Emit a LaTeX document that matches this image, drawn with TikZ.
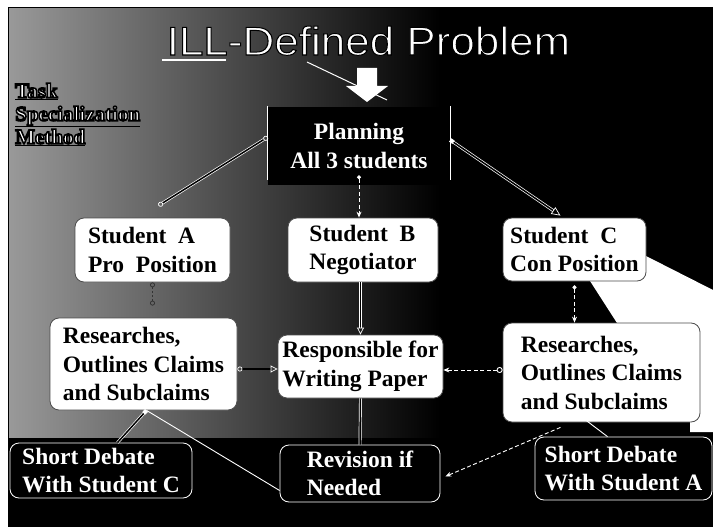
\documentclass[tikz,border=0pt]{standalone}
\usepackage{fontspec}
\setmainfont{Liberation Serif}
\newfontfamily\titlefont{Liberation Sans}
\usetikzlibrary{arrows.meta,calc}
\newcommand\boxfont{\fontsize{23.5}{28.5}\selectfont\bfseries}
\newcommand\outl[2][1.6]{\special{pdf:literal direct 2 Tr #1 w 0 G}#2\special{pdf:literal direct 0 Tr}}
\begin{document}
\begin{tikzpicture}[x=1pt,y=-1pt,
  wbox/.style={draw=black!70, line width=0.8pt, fill=white, rounded corners=9pt,
    inner sep=0pt, align=left, font=\boxfont, text=black},
  bbox/.style={draw=white, line width=0.8pt, fill=black, rounded corners=9pt,
    inner sep=0pt, align=left, font=\boxfont, text=white},
  dline/.style={draw=white, double=black, double distance=1.5pt, line width=0.7pt},
  dashl/.style={draw=white, line width=0.9pt, dash pattern=on 4pt off 2.5pt},
  sline/.style={draw=white, line width=0.9pt}
]
\useasboundingbox (0,0) rectangle (713,527);
% slide background
\fill[white] (0,0) rectangle (713,527);
\fill[black] (8,8) rectangle (713,527);
\shade[left color=black!40, right color=black] (9,9) rectangle (440,437);
\draw[black, line width=1pt] (8,527) -- (8,8) -- (713,8);
% white wedge at right
\fill[white] (590,281) -- (646,256) -- (713,290) -- (713,432) -- (690,432) -- (690,330) -- (617,323) -- cycle;

% title
\node[anchor=base, inner sep=0pt, text=white, xscale=1.1,
  font=\titlefont\fontsize{40}{40}\selectfont] (title) at (368.5,55)
  {\outl[1.0]{ILL-Defined Problem}};
\draw[white, line width=1.6pt] (162,60) -- (226,60);
\coordinate (tl) at (307,62);
\coordinate (ta) at (387,100);
\draw[white, line width=1pt] (tl) -- (ta);
% block arrow
\fill[white] (357,68) -- (377,68) -- (377,86) -- (388,86) -- (367,102) -- (346,86) -- (357,86) -- cycle;

% side menu
\node[anchor=north west, inner sep=0pt, align=left, text=white,
  font=\fontsize{21}{23}\selectfont\bfseries] (menu) at (15,83)
  {\outl{\underline{Task}}\\ \outl{\underline{Specialization}}\\ \outl{\underline{Method}}};

% planning
\node[fill=black, minimum width=182pt, minimum height=78pt, inner sep=0pt,
  align=center, text=white, font=\boxfont] (plan) at (359,146)
  {Planning\\All 3 students};
\draw[white, line width=1.2pt] ([yshift=1pt]plan.north west) -- ([yshift=5pt]plan.south west);
\draw[white, line width=1.2pt] ([yshift=1pt]plan.north east) -- ([yshift=5pt]plan.south east);

% white boxes
\node[wbox, minimum width=155pt, minimum height=64pt] (sa) at (152.5,250)
  {Student\ \ A\\Pro\ \ Position};
\node[wbox, minimum width=150pt, minimum height=64pt] (sb) at (363,250)
  {Student\ \ B\\Negotiator};
\node[wbox, minimum width=143pt, minimum height=63pt] (sc) at (574.5,249.5)
  {Student\ \ C\\Con Position};
\node[wbox, minimum width=187pt, minimum height=92pt] (ra) at (143.5,364)
  {Researches,\\Outlines Claims\\and Subclaims};
\node[wbox, minimum width=165pt, minimum height=63pt] (rp) at (360.5,366.5)
  {Responsible for\\Writing Paper};
\node[wbox, minimum width=197pt, minimum height=99pt] (rc) at (601.5,372.5)
  {Researches,\\Outlines Claims\\and Subclaims};

% black boxes
\node[bbox, minimum width=182pt, minimum height=55pt] (sda) at (101,470.5)
  {Short Debate\\With Student C};
\node[bbox, minimum width=160pt, minimum height=57pt] (rev) at (360,473.5)
  {Revision if\\Needed\hspace{45pt}};
\node[bbox, minimum width=177pt, minimum height=63pt] (sdc) at (623.5,468.5)
  {Short Debate\\With Student A};

% connectors
\draw[dline, {Circle[open,length=5pt,width=5pt]}-{Circle[open,length=5pt,width=5pt]}]
  ([yshift=9pt]plan.west) -- ([xshift=6pt,yshift=12pt]sa.north);
\draw[dline, {Square[length=4pt,width=4pt]}-{Triangle[open,length=9pt,width=8pt]}]
  ([yshift=6pt]plan.east) -- ([xshift=-14pt,yshift=2pt]sc.north);
\draw[dashl, {Circle[length=4pt,width=4pt]}-{Stealth[length=6pt,width=5pt]}]
  ([yshift=10pt]plan.south) -- (plan.south |- sb.north);
\draw[black!80, line width=0.8pt, dash pattern=on 2pt off 2pt,
  {Circle[open,length=5pt,width=5pt]}-{Circle[open,length=5pt,width=5pt]}]
  (sa.south) -- ([yshift=12pt]sa.south |- ra.north);
\draw[dline, -{Triangle[open,length=7pt,width=7pt]}]
  (rp.north |- sb.south) -- (rp.north);
\draw[dashl, {Circle[length=4pt,width=4pt]}-{Stealth[length=6pt,width=5pt]}]
  ([yshift=-4pt]sc.south) -- (sc.south |- rc.north);
\draw[dline, {Circle[open,length=5pt,width=5pt]}-{Triangle[open,length=7pt,width=7pt]}]
  (ra.east |- 0,369) -- (rp.west |- 0,369);
\draw[dashl, {Circle[open,length=6pt,width=6pt]}-{Stealth[length=6pt,width=5pt]}]
  (rc.west |- 0,370) -- (rp.east |- 0,370);
\draw[dline] (rp.south) -- (rev.north);
\draw[dline, {Square[length=4pt,width=4pt]}-]
  ([xshift=3pt]ra.south) -- ($(sda.north west)!0.59!(sda.north east)$);
\draw[sline] ([xshift=3pt]ra.south) -- ([yshift=-17pt]rev.west);
\draw[sline, {Triangle[open,length=6pt,width=8pt]}-]
  ([xshift=-26pt,yshift=10pt]rc.south) -- ($(sdc.north west)!0.41!(sdc.north east)$);
\draw[dashl, -{Stealth[length=6pt,width=5pt]}]
  ([xshift=-41pt,yshift=-5pt]rc.south) -- ([xshift=5pt,yshift=-3pt]rev.east);
\end{tikzpicture}
\end{document}
